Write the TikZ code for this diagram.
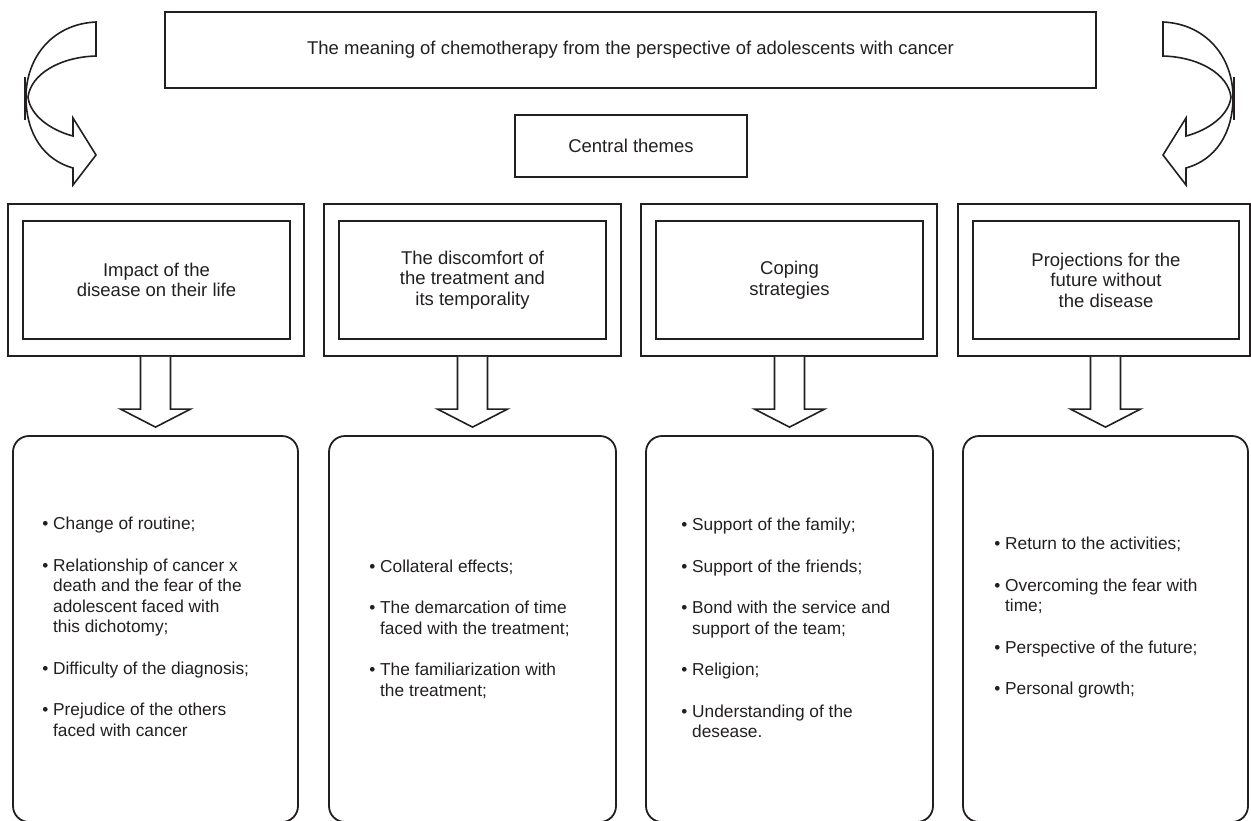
\documentclass[tikz,border=0pt]{standalone}
\usepackage{fontspec}
\setmainfont{Liberation Sans}
\usetikzlibrary{positioning,calc}
\usepackage{xcolor}
\definecolor{ink}{HTML}{231F20}
\newcommand{\bulitem}{•\ }
\newcommand{\contline}{\hphantom{•\ }}

\tikzset{
  box/.style={draw=ink, line width=1.8pt, inner sep=0pt},
  headtext/.style={font=\fontsize{18.5pt}{20.5pt}\selectfont, align=center, text=ink},
  listtext/.style={font=\fontsize{17.3pt}{20.5pt}\selectfont, align=left, text=ink, anchor=west, inner sep=0pt},
  blockarr/.style={draw=ink, line width=1.6pt, line join=miter, fill=white},
  bendarrow/.pic={
    \draw[ink, line width=1.6pt, line join=miter]
      (96,22) .. controls (52,24) and (26,58) .. (26,97)
      .. controls (26,134) and (44,160) .. (73,168)
      -- (73,185) -- (96,155) -- (73,118) -- (73,136)
      .. controls (50,130) and (30,115) .. (28,97)
      .. controls (31,74) and (60,57) .. (96,56) -- cycle;
    \draw[ink, line width=1.6pt] (25,77) -- (25,120);
  }
}

\begin{document}
\begin{tikzpicture}[x=1pt, y=-1pt]
    \useasboundingbox (0,0) rectangle (1251,820);

    % Top
    \node[box, headtext, minimum width=931, minimum height=76] (title) at (630.5,50) {The meaning of chemotherapy from the perspective of adolescents with cancer};
    \node[box, headtext, minimum width=232, minimum height=62] (themes) at (631,146) {Central themes};
    \pic at (0,0) {bendarrow};
    \pic[xscale=-1] at (1259,0) {bendarrow};

    % Themes (double frames)
    \node[box, minimum width=296, minimum height=152] (o1) at (156,280) {};
    \node[box, headtext, minimum width=267, minimum height=118] (h1) at (156.5,280) {Impact of the\\disease on their life};
    \node[box, minimum width=297, minimum height=152] (o2) at (472.5,280) {};
    \node[box, headtext, minimum width=267, minimum height=118] (h2) at (472.5,280) {The discomfort of\\the treatment and\\its temporality};
    \node[box, minimum width=296, minimum height=152] (o3) at (789,280) {};
    \node[box, headtext, minimum width=267, minimum height=118] (h3) at (789.5,280) {Coping\\strategies};
    \node[box, minimum width=292, minimum height=152] (o4) at (1104,280) {};
    \node[box, headtext, minimum width=266, minimum height=118] (h4) at (1106,280) {Projections for the\\future without\\the disease};

    % Sub-themes
    \node[box, rounded corners=16pt, minimum width=285, minimum height=386] (d1) at (155.5,629) {};
    \node[box, rounded corners=16pt, minimum width=287, minimum height=386] (d2) at (472.5,629) {};
    \node[box, rounded corners=16pt, minimum width=287, minimum height=386] (d3) at (789.5,629) {};
    \node[box, rounded corners=16pt, minimum width=285, minimum height=386] (d4) at (1105.5,629) {};

    \node[listtext] (l1) at ($(d1.west)+(30,-2)$) {\bulitem Change of routine;\\[21pt]
      \bulitem Relationship of cancer x\\ \contline death and the fear of the\\ \contline adolescent faced with\\ \contline this dichotomy;\\[21pt]
      \bulitem Difficulty of the diagnosis;\\[21pt]
      \bulitem Prejudice of the others\\ \contline faced with cancer};
    \node[listtext] (l2) at ($(d2.west)+(41,0)$) {\bulitem Collateral effects;\\[21pt]
      \bulitem The demarcation of time\\ \contline faced with the treatment;\\[21pt]
      \bulitem The familiarization with\\ \contline the treatment;};
    \node[listtext] (l3) at ($(d3.west)+(36,-1)$) {\bulitem Support of the family;\\[21pt]
      \bulitem Support of the friends;\\[21pt]
      \bulitem Bond with the service and\\ \contline support of the team;\\[21pt]
      \bulitem Religion;\\[21pt]
      \bulitem Understanding of the\\ \contline desease.};
    \node[listtext] (l4) at ($(d4.west)+(32,-11)$) {\bulitem Return to the activities;\\[21pt]
      \bulitem Overcoming the fear with\\ \contline time;\\[21pt]
      \bulitem Perspective of the future;\\[21pt]
      \bulitem Personal growth;};

    % Block arrows
    \foreach \n in {1,...,4}{
      \draw[blockarr] ($(d\n.north |- o\n.south)+(-15,0)$) -- ($(d\n.north)+(-15,-26)$) -- ++(-20,0)
        -- ($(d\n.north)+(0,-8)$) -- ($(d\n.north)+(35,-26)$) -- ++(-20,0)
        -- ($(d\n.north |- o\n.south)+(15,0)$);
    }
\end{tikzpicture}
\end{document}
